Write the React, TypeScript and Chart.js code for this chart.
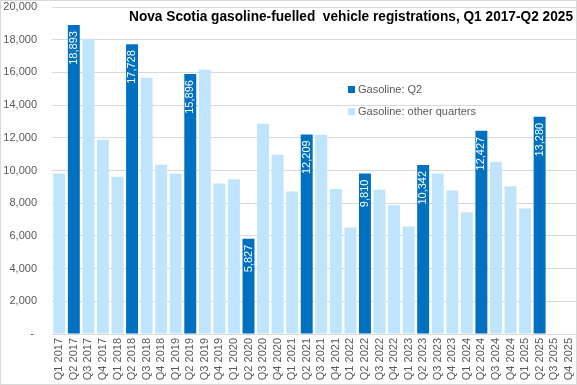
import { useEffect, useRef } from "react";
import { Chart, registerables } from "chart.js";

Chart.register(...registerables);

const categories = [
  "Q1 2017", "Q2 2017", "Q3 2017", "Q4 2017",
  "Q1 2018", "Q2 2018", "Q3 2018", "Q4 2018",
  "Q1 2019", "Q2 2019", "Q3 2019", "Q4 2019",
  "Q1 2020", "Q2 2020", "Q3 2020", "Q4 2020",
  "Q1 2021", "Q2 2021", "Q3 2021", "Q4 2021",
  "Q1 2022", "Q2 2022", "Q3 2022", "Q4 2022",
  "Q1 2023", "Q2 2023", "Q3 2023", "Q4 2023",
  "Q1 2024", "Q2 2024", "Q3 2024", "Q4 2024",
  "Q1 2025", "Q2 2025", "Q3 2025", "Q4 2025",
];

const gasolineQ2 = [
  null, 18893, null, null,
  null, 17728, null, null,
  null, 15896, null, null,
  null, 5827, null, null,
  null, 12209, null, null,
  null, 9810, null, null,
  null, 10342, null, null,
  null, 12427, null, null,
  null, 13280, null, null,
];

const gasolineOther = [
  9820, null, 18050, 11880,
  9620, null, 15670, 10350,
  9820, null, 16160, 9210,
  9470, null, 12860, 10970,
  8720, null, 12190, 8870,
  6510, null, 8830, 7870,
  6570, null, 9820, 8770,
  7440, null, 10540, 9030,
  7670, null, null, null,
];

const yTicksMax = 20000;
const yTickStep = 2000;

const titleText = "Nova Scotia gasoline-fuelled  vehicle registrations, Q1 2017-Q2 2025";
const seriesLabels = ["Gasoline: Q2", "Gasoline: other quarters"];
const seriesColors = ["#0070C0", "#C0E4FB"];

const FONT = "'Liberation Sans', Arial, sans-serif";

export default function App() {
  const ref = useRef<HTMLCanvasElement | null>(null);

  useEffect(() => {
    document.body.style.margin = "0";
    const canvas = ref.current;
    if (!canvas) return;

    const decorPlugin = {
      id: "decor",
      afterDatasetsDraw(chart: any) {
        const ctx = chart.ctx as CanvasRenderingContext2D;
        const meta = chart.getDatasetMeta(0);
        ctx.save();
        ctx.fillStyle = "#FFFFFF";
        ctx.font = `11px ${FONT}`;
        ctx.textAlign = "right";
        ctx.textBaseline = "middle";
        meta.data.forEach((el: any, i: number) => {
          const v = gasolineQ2[i];
          if (v == null) return;
          ctx.save();
          ctx.translate(el.x, el.y + 6);
          ctx.rotate(-Math.PI / 2);
          ctx.fillText(v.toLocaleString("en-US"), 0, 0);
          ctx.restore();
        });
        ctx.restore();
      },
      afterDraw(chart: any) {
        const ctx = chart.ctx as CanvasRenderingContext2D;
        ctx.save();
        ctx.strokeStyle = "#D9D9D9";
        ctx.lineWidth = 1;
        ctx.strokeRect(0.5, 0.5, chart.width - 1, chart.height - 1);

        ctx.fillStyle = "#000000";
        ctx.font = `bold 15px 'Liberation Sans Narrow', 'Liberation Sans', Arial, sans-serif`;
        ctx.textBaseline = "alphabetic";
        ctx.textAlign = "left";
        const w = ctx.measureText(titleText).width;
        const target = 444;
        ctx.save();
        ctx.translate(129, 21);
        ctx.scale(target / w, 1);
        ctx.fillText(titleText, 0, 0);
        ctx.restore();

        const rows = [89, 111];
        ctx.font = `11px ${FONT}`;
        ctx.textBaseline = "middle";
        rows.forEach((y, i) => {
          ctx.fillStyle = seriesColors[i];
          ctx.fillRect(348, y - 3, 7, 7);
          ctx.fillStyle = "#595959";
          ctx.fillText(seriesLabels[i], 358, y + 0.5);
        });
        ctx.restore();
      },
    };

    const chart = new Chart(canvas, {
      type: "bar",
      data: {
        labels: categories,
        datasets: [
          {
            label: seriesLabels[0],
            data: gasolineQ2,
            backgroundColor: seriesColors[0],
            grouped: false,
            barPercentage: 0.82,
            categoryPercentage: 1,
          } as any,
          {
            label: seriesLabels[1],
            data: gasolineOther,
            backgroundColor: seriesColors[1],
            grouped: false,
            barPercentage: 0.82,
            categoryPercentage: 1,
          } as any,
        ],
      },
      options: {
        animation: false,
        responsive: false,
        maintainAspectRatio: false,
        devicePixelRatio: 1,
        layout: { padding: { top: 7, right: 1, left: 0, bottom: 0 } },
        plugins: {
          legend: { display: false },
          title: { display: false },
          tooltip: { enabled: false },
        },
        scales: {
          x: {
            grid: { display: false, drawTicks: false },
            border: { color: "#D9D9D9" },
            ticks: {
              autoSkip: false,
              minRotation: 90,
              maxRotation: 90,
              padding: 4,
              color: "#595959",
              font: { size: 11, family: FONT },
            },
            afterFit(scale: any) {
              scale.height = 51;
              scale.paddingLeft = 0;
              scale.paddingRight = 0;
              scale.paddingTop = 0;
              scale.paddingBottom = 0;
            },
          },
          y: {
            min: 0,
            max: yTicksMax,
            grid: { color: "#D9D9D9", drawTicks: false },
            border: { display: false },
            ticks: {
              stepSize: yTickStep,
              padding: 15,
              color: "#595959",
              font: { size: 11, family: FONT },
              callback: (v: any) => (Number(v) === 0 ? "- " : Number(v).toLocaleString("en-US")),
            },
            afterFit(scale: any) {
              scale.width = 52;
              scale.paddingTop = 0;
              scale.paddingBottom = 0;
              scale.paddingLeft = 0;
              scale.paddingRight = 0;
            },
          },
        },
      },
      plugins: [decorPlugin],
    });

    return () => chart.destroy();
  }, []);

  return (
    <div style={{ width: 577, height: 385 }}>
      <canvas ref={ref} width={577} height={385} style={{ display: "block" }} />
    </div>
  );
}
